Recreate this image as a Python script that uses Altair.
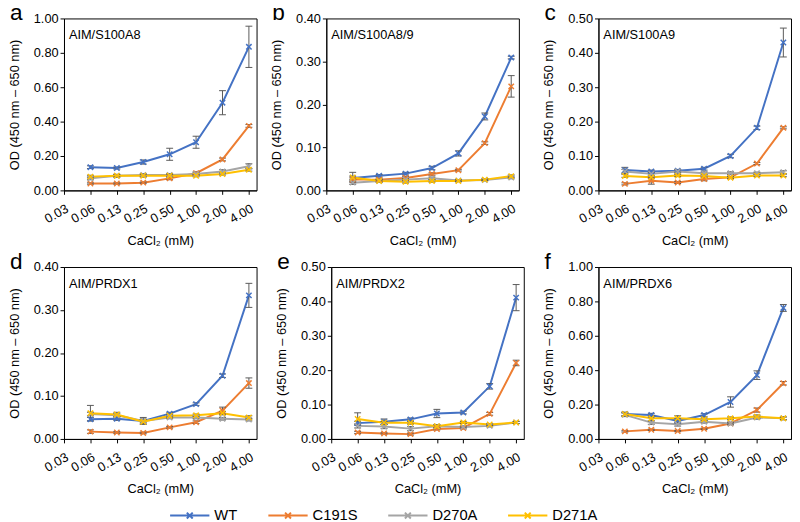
import altair as alt
import pandas as pd

# ---------------- data ----------------
conc_labels = ["0.03", "0.06", "0.13", "0.25", "0.50", "1.00", "2.00", "4.00"]
series_names = ["WT", "C191S", "D270A", "D271A"]
series_colors = ["#4472C4", "#ED7D31", "#A5A5A5", "#FFC000"]

panel_letters = ["a", "b", "c", "d", "e", "f"]
panel_names = ["AIM/S100A8", "AIM/S100A8/9", "AIM/S100A9", "AIM/PRDX1", "AIM/PRDX2", "AIM/PRDX6"]
y_max = [1.0, 0.4, 0.5, 0.4, 0.5, 1.0]
y_step = [0.2, 0.1, 0.1, 0.1, 0.1, 0.2]

# Panel a: AIM/S100A8
a_wt = [0.135, 0.130, 0.165, 0.210, 0.280, 0.510, 0.835]
a_wt_err = [0.008, 0.006, 0.012, 0.035, 0.035, 0.070, 0.120]
a_c191s = [0.040, 0.040, 0.045, 0.070, 0.100, 0.180, 0.375]
a_c191s_err = [0.004, 0.004, 0.004, 0.008, 0.008, 0.008, 0.008]
a_d270a = [0.070, 0.085, 0.090, 0.090, 0.095, 0.110, 0.140]
a_d270a_err = [0.008, 0.008, 0.008, 0.008, 0.008, 0.010, 0.015]
a_d271a = [0.080, 0.085, 0.085, 0.085, 0.085, 0.095, 0.120]
a_d271a_err = [0.008, 0.008, 0.008, 0.008, 0.006, 0.006, 0.008]

# Panel b: AIM/S100A8/9
b_wt = [0.029, 0.034, 0.039, 0.052, 0.086, 0.172, 0.309]
b_wt_err = [0.004, 0.003, 0.003, 0.004, 0.006, 0.008, 0.003]
b_c191s = [0.025, 0.025, 0.029, 0.038, 0.047, 0.110, 0.242]
b_c191s_err = [0.004, 0.003, 0.003, 0.003, 0.002, 0.003, 0.025]
b_d270a = [0.018, 0.022, 0.025, 0.028, 0.023, 0.024, 0.030]
b_d270a_err = [0.004, 0.003, 0.003, 0.003, 0.002, 0.002, 0.003]
b_d271a = [0.030, 0.022, 0.020, 0.022, 0.022, 0.025, 0.033]
b_d271a_err = [0.012, 0.003, 0.003, 0.003, 0.002, 0.002, 0.003]

# Panel c: AIM/S100A9
c_wt = [0.059, 0.055, 0.057, 0.063, 0.100, 0.182, 0.430]
c_wt_err = [0.008, 0.004, 0.004, 0.004, 0.005, 0.005, 0.042]
c_c191s = [0.019, 0.028, 0.023, 0.033, 0.038, 0.078, 0.182]
c_c191s_err = [0.003, 0.010, 0.003, 0.005, 0.003, 0.003, 0.003]
c_d270a = [0.055, 0.048, 0.055, 0.050, 0.050, 0.050, 0.053]
c_d270a_err = [0.006, 0.004, 0.005, 0.004, 0.004, 0.003, 0.004]
c_d271a = [0.042, 0.038, 0.043, 0.042, 0.037, 0.043, 0.043]
c_d271a_err = [0.004, 0.004, 0.003, 0.003, 0.003, 0.003, 0.003]

# Panel d: AIM/PRDX1
d_wt = [0.046, 0.047, 0.042, 0.059, 0.081, 0.147, 0.334]
d_wt_err = [0.004, 0.004, 0.004, 0.003, 0.003, 0.004, 0.028]
d_c191s = [0.017, 0.015, 0.014, 0.027, 0.039, 0.066, 0.130]
d_c191s_err = [0.004, 0.002, 0.002, 0.002, 0.003, 0.008, 0.012]
d_d270a = [0.058, 0.055, 0.042, 0.050, 0.050, 0.047, 0.045]
d_d270a_err = [0.004, 0.004, 0.008, 0.003, 0.003, 0.003, 0.003]
d_d271a = [0.060, 0.057, 0.040, 0.054, 0.055, 0.060, 0.050]
d_d271a_err = [0.018, 0.005, 0.005, 0.004, 0.003, 0.004, 0.004]

# Panel e: AIM/PRDX2
e_wt = [0.046, 0.050, 0.057, 0.074, 0.077, 0.153, 0.411]
e_wt_err = [0.005, 0.008, 0.004, 0.012, 0.004, 0.008, 0.038]
e_c191s = [0.019, 0.016, 0.014, 0.029, 0.032, 0.073, 0.221]
e_c191s_err = [0.003, 0.002, 0.003, 0.003, 0.003, 0.004, 0.008]
e_d270a = [0.038, 0.036, 0.030, 0.037, 0.035, 0.038, 0.048]
e_d270a_err = [0.006, 0.006, 0.006, 0.005, 0.003, 0.003, 0.003]
e_d271a = [0.058, 0.047, 0.047, 0.037, 0.048, 0.042, 0.048]
e_d271a_err = [0.018, 0.004, 0.004, 0.004, 0.003, 0.003, 0.003]

# Panel f: AIM/PRDX6
f_wt = [0.145, 0.139, 0.105, 0.139, 0.215, 0.371, 0.762]
f_wt_err = [0.010, 0.010, 0.012, 0.008, 0.030, 0.025, 0.020]
f_c191s = [0.044, 0.053, 0.046, 0.059, 0.090, 0.168, 0.324]
f_c191s_err = [0.004, 0.004, 0.004, 0.004, 0.004, 0.012, 0.010]
f_d270a = [0.140, 0.095, 0.085, 0.100, 0.090, 0.125, 0.120]
f_d270a_err = [0.010, 0.010, 0.010, 0.008, 0.008, 0.010, 0.008]
f_d271a = [0.145, 0.120, 0.120, 0.115, 0.120, 0.130, 0.120]
f_d271a_err = [0.010, 0.015, 0.015, 0.008, 0.008, 0.010, 0.008]

panel_values = [
    [(a_wt, a_wt_err), (a_c191s, a_c191s_err), (a_d270a, a_d270a_err), (a_d271a, a_d271a_err)],
    [(b_wt, b_wt_err), (b_c191s, b_c191s_err), (b_d270a, b_d270a_err), (b_d271a, b_d271a_err)],
    [(c_wt, c_wt_err), (c_c191s, c_c191s_err), (c_d270a, c_d270a_err), (c_d271a, c_d271a_err)],
    [(d_wt, d_wt_err), (d_c191s, d_c191s_err), (d_d270a, d_d270a_err), (d_d271a, d_d271a_err)],
    [(e_wt, e_wt_err), (e_c191s, e_c191s_err), (e_d270a, e_d270a_err), (e_d271a, e_d271a_err)],
    [(f_wt, f_wt_err), (f_c191s, f_c191s_err), (f_d270a, f_d270a_err), (f_d271a, f_d271a_err)],
]

# ---------------- styling ----------------
FONT = "Liberation Sans"
W, H = 196, 175
X_SHAPE = "M-1,-1L1,1M-1,1L1,-1"
CAP_SHAPE = "M-1,0L1,0"
ERR_COLOR = "#595959"
label_expr = "[" + ",".join("'%s'" % s for s in conc_labels) + "][datum.value]"

color_scale = alt.Scale(domain=series_names, range=series_colors)
legend_def = alt.Legend(
    orient="none", legendX=107, legendY=485, direction="horizontal", columns=4,
    title=None, symbolType="M-1,0L1,0M-0.15,-0.15L0.15,0.15M-0.15,0.15L0.15,-0.15",
    symbolSize=1600, symbolStrokeWidth=2, labelFontSize=15, labelFont=FONT,
    labelColor="#000", columnPadding=27, labelOffset=4, padding=0,
)


def make_panel(i):
    rows = []
    for s_idx, (vals, errs) in enumerate(panel_values[i]):
        for k, (v, e) in enumerate(zip(vals, errs)):
            rows.append({"xi": k + 1, "series": series_names[s_idx], "val": v,
                         "lo": v - e, "hi": v + e})
    df = pd.DataFrame(rows)
    ticks = [round(j * y_step[i], 2) for j in range(int(round(y_max[i] / y_step[i])) + 1)]

    x_scale = alt.Scale(domain=[0, 7.29], nice=False, zero=False)
    x_axis = alt.Axis(values=list(range(8)), labelExpr=label_expr, labelAngle=-30,
                      labelAlign="right", labelBaseline="top", labelOverlap=False,
                      labelFlush=False, title="CaCl₂ (mM)", grid=False)
    y_scale = alt.Scale(domain=[0, y_max[i]], nice=False)
    y_axis = alt.Axis(values=ticks, format=".2f", title="OD (450 nm – 650 nm)",
                      labelOverlap=False, labelFlush=False, grid=False)

    def X():
        return alt.X("xi:Q", scale=x_scale, axis=x_axis)

    def Y(field):
        return alt.Y(field + ":Q", scale=y_scale, axis=y_axis)

    color_enc = alt.Color("series:N", scale=color_scale, legend=legend_def, sort=series_names)

    base = alt.Chart(df)
    lines = base.mark_line(strokeWidth=2).encode(x=X(), y=Y("val"), color=color_enc,
                                                 order="xi:Q")
    err = base.mark_rule(color=ERR_COLOR, strokeWidth=1).encode(
        x=X(), y=Y("lo"), y2="hi:Q")
    cap_lo = base.mark_point(shape=CAP_SHAPE, size=49, filled=False, color=ERR_COLOR,
                             strokeWidth=1, opacity=1).encode(x=X(), y=Y("lo"))
    cap_hi = base.mark_point(shape=CAP_SHAPE, size=49, filled=False, color=ERR_COLOR,
                             strokeWidth=1, opacity=1).encode(x=X(), y=Y("hi"))
    pts = base.mark_point(shape=X_SHAPE, size=30, filled=False, strokeWidth=1.5,
                          opacity=1).encode(x=X(), y=Y("val"), color=color_enc)

    name_df = pd.DataFrame({"t": [panel_names[i]]})
    name_txt = alt.Chart(name_df).mark_text(align="left", baseline="middle", fontSize=13,
                                            font=FONT, color="#000").encode(
        text="t:N", x=alt.value(5), y=alt.value(17))
    letter_df = pd.DataFrame({"t": [panel_letters[i]]})
    letter_txt = alt.Chart(letter_df).mark_text(align="left", baseline="alphabetic", fontSize=23,
                                                font=FONT, color="#000").encode(
        text="t:N", x=alt.value(-55), y=alt.value(2))

    return alt.layer(lines, err, cap_lo, cap_hi, pts, name_txt, letter_txt).properties(
        width=W, height=H)


panels = [make_panel(i) for i in range(6)]
row1 = alt.hconcat(alt.hconcat(panels[0], panels[1], spacing=13), panels[2], spacing=23)
row2 = alt.hconcat(alt.hconcat(panels[3], panels[4], spacing=18), panels[5], spacing=18)

chart = alt.vconcat(row1, row2, spacing=2).properties(
    padding={"left": 0, "top": -11, "right": 0, "bottom": 0}
).configure_view(
    stroke="#000", strokeWidth=1
).configure_axis(
    labelFont=FONT, titleFont=FONT, labelFontSize=13, titleFontSize=13,
    titleFontWeight="normal", labelColor="#000", titleColor="#000",
    domainColor="#000", tickColor="#000", tickSize=4, labelPadding=2,
    labelOverlap=False,
).configure_axisY(titlePadding=12).configure_axisX(titlePadding=9, labelPadding=8)

chart.save("out.html", embed_options={"renderer": "svg", "actions": False})
